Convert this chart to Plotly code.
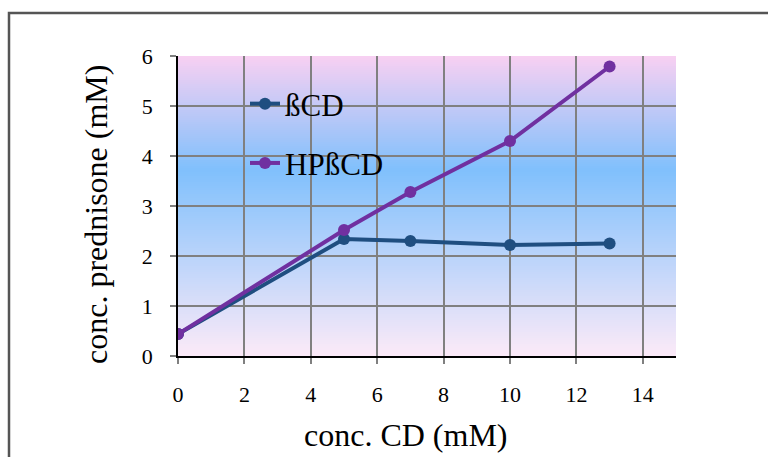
import plotly.graph_objects as go

# Solubility data: prednisone concentration vs cyclodextrin concentration
cd_conc = [0, 5, 7, 10, 13]
beta_cd = [0.44, 2.34, 2.30, 2.22, 2.25]
hp_beta_cd = [0.44, 2.52, 3.28, 4.30, 5.79]
x_ticks = [0, 2, 4, 6, 8, 10, 12, 14]
y_ticks = [0, 1, 2, 3, 4, 5, 6]

FONT = "Liberation Serif"
BLUE = "#1F4E80"
PURPLE = "#7030A0"

# plot-area geometry in pixels (used to place the titles in paper units)
L, R, T, B = 178, 676, 56, 356
PW, PH = R - L, B - T

fig = go.Figure()
fig.add_trace(go.Scatter(
    x=cd_conc, y=beta_cd, name="ßCD", mode="lines+markers",
    line=dict(color=BLUE, width=4), marker=dict(color=BLUE, size=12),
    legendgroup="a",
))
fig.add_trace(go.Scatter(
    x=cd_conc, y=hp_beta_cd, name="HPßCD", mode="lines+markers",
    line=dict(color=PURPLE, width=4), marker=dict(color=PURPLE, size=12),
    legendgroup="b",
))

# Vertical pink -> blue -> pink gradient behind the plot area
stops = [
    (0.0, (248, 208, 242)),
    (0.38, (128, 192, 252)),
    (1.0, (252, 234, 248)),
]


def grad(t):
    for (t0, c0), (t1, c1) in zip(stops[:-1], stops[1:]):
        if t0 <= t <= t1:
            f = (t - t0) / (t1 - t0)
            return "rgb(%d,%d,%d)" % tuple(round(a + (b - a) * f) for a, b in zip(c0, c1))
    return "rgb(%d,%d,%d)" % stops[-1][1]


shapes = []
n = 150
for i in range(n):
    y0 = i / n
    y1 = (i + 1) / n + 0.002
    t = 1 - (i + 0.5) / n
    shapes.append(dict(
        type="rect", xref="x domain", yref="y domain",
        x0=0, x1=1, y0=y0, y1=min(y1, 1),
        fillcolor=grad(t), line=dict(width=0), layer="below",
    ))

# Outer frame around the chart
shapes.append(dict(
    type="rect", xref="paper", yref="paper",
    x0=(9 - L) / PW, x1=1.5, y0=-1, y1=(B - 13) / PH,
    line=dict(color="#555555", width=2.5), fillcolor="rgba(0,0,0,0)",
))

annotations = [
    dict(text="conc. CD (mM)", xref="paper", yref="paper",
         x=(406 - L) / PW, y=(B - 435) / PH, xanchor="center", yanchor="middle",
         showarrow=False, font=dict(family=FONT, size=32, color="black")),
    dict(text="conc. prednisone (mM)", xref="paper", yref="paper",
         x=(96 - L) / PW, y=(B - 215) / PH, xanchor="center", yanchor="middle",
         textangle=-90, showarrow=False, font=dict(family=FONT, size=32, color="black")),
]

fig.update_layout(
    width=768, height=457,
    margin=dict(l=L, r=768 - R, t=T, b=457 - B),
    paper_bgcolor="white", plot_bgcolor="rgba(0,0,0,0)",
    font=dict(family=FONT, color="black"),
    shapes=shapes,
    annotations=annotations,
    showlegend=True,
    legend=dict(
        x=(245 - L) / PW, y=(B - 77) / PH, xanchor="left", yanchor="top",
        bgcolor="rgba(0,0,0,0)", font=dict(family=FONT, size=31),
        tracegroupgap=16,
    ),
)
fig.update_xaxes(
    range=[0, 15], tickvals=x_ticks, ticktext=[str(v) for v in x_ticks],
    showgrid=True, gridcolor="#808080", gridwidth=2,
    showline=True, linecolor="black", linewidth=1.5,
    ticks="outside", ticklen=6, tickcolor="#808080", tickwidth=1.5,
    ticklabelstandoff=12,
    tickfont=dict(family=FONT, size=22),
    zeroline=False,
)
fig.update_yaxes(
    range=[0, 6], tickvals=y_ticks, ticktext=[str(v) for v in y_ticks],
    showgrid=True, gridcolor="#808080", gridwidth=2,
    showline=True, linecolor="black", linewidth=1.5,
    ticks="outside", ticklen=6, tickcolor="#808080", tickwidth=1.5,
    ticklabelstandoff=13,
    tickfont=dict(family=FONT, size=22),
    zeroline=False,
)

fig.write_html("out.html")
